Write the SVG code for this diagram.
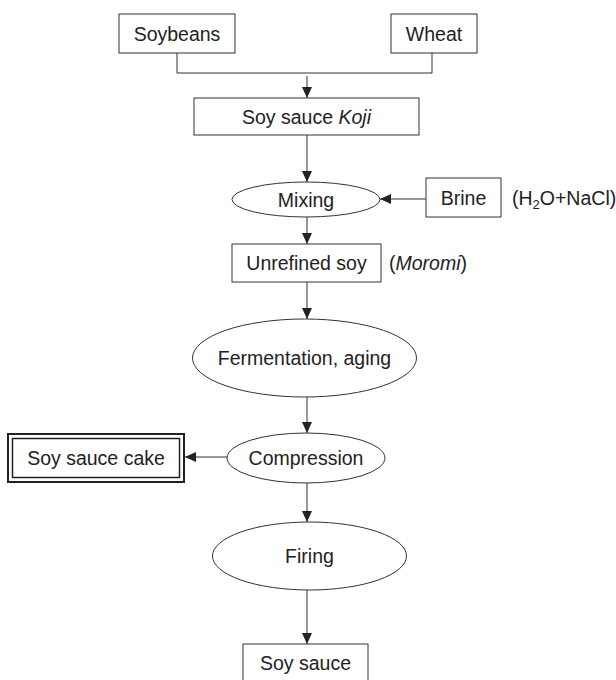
<svg xmlns="http://www.w3.org/2000/svg" width="616" height="680" viewBox="0 0 616 680">
<defs>
<marker id="ah" markerUnits="userSpaceOnUse" markerWidth="11" markerHeight="10" refX="11" refY="5" orient="auto">
<path d="M0,0 L11,5 L0,10 z" fill="#222"/>
</marker>
<style>
.box{fill:#fff;stroke:#333;stroke-width:1}
.t{font-family:"Liberation Sans",Arial,sans-serif;font-size:19.5px;fill:#222;text-anchor:middle}
.ts{font-family:"Liberation Sans",Arial,sans-serif;font-size:19.5px;fill:#222}
.c{fill:none;stroke:#333;stroke-width:1}
.a{fill:none;stroke:#333;stroke-width:1;marker-end:url(#ah)}
</style>
</defs>
<rect width="616" height="680" fill="#fff"/>
<g id="connectors">
<polyline class="c" points="177,53 177,73 432,73 432,53"/>
<line class="a" x1="307" y1="76" x2="307" y2="98"/>
<line class="a" x1="307" y1="135" x2="307" y2="182"/>
<line class="a" x1="426" y1="199" x2="380" y2="199"/>
<line class="a" x1="307" y1="217" x2="307" y2="244"/>
<line class="a" x1="307" y1="282" x2="307" y2="319"/>
<line class="a" x1="307" y1="397" x2="307" y2="433"/>
<line class="a" x1="227" y1="457" x2="185" y2="457"/>
<line class="a" x1="307" y1="483" x2="307" y2="522"/>
<line class="a" x1="307" y1="590" x2="307" y2="644"/>
</g>
<g id="soybeans"><rect class="box" x="119" y="14" width="116" height="39"/><text class="t" x="177" y="40.5">Soybeans</text></g>
<g id="wheat"><rect class="box" x="391" y="14" width="86" height="39"/><text class="t" x="434" y="40.5">Wheat</text></g>
<g id="koji"><rect class="box" x="194" y="98" width="225" height="37"/><text class="t" x="306.5" y="123.5">Soy sauce <tspan font-style="italic">Koji</tspan></text></g>
<g id="mixing"><ellipse class="box" cx="306" cy="199.5" rx="74" ry="17.5"/><text class="t" x="306" y="206.5">Mixing</text></g>
<g id="brine"><rect class="box" x="426" y="178" width="75" height="39"/><text class="t" x="463.5" y="204.5">Brine</text><text class="ts" x="512" y="204.5">(H<tspan font-size="13" dy="4">2</tspan><tspan dy="-4">O+NaCl)</tspan></text></g>
<g id="unrefined"><rect class="box" x="232" y="244" width="149" height="38"/><text class="t" x="306.5" y="270">Unrefined soy</text><text class="ts" x="389" y="270">(<tspan font-style="italic">Moromi</tspan>)</text></g>
<g id="fermentation"><ellipse class="box" cx="304.5" cy="358" rx="112" ry="39"/><text class="t" x="304.5" y="365">Fermentation, aging</text></g>
<g id="compression"><ellipse class="box" cx="306" cy="458" rx="79" ry="25"/><text class="t" x="306" y="465">Compression</text></g>
<g id="cake"><rect fill="#fff" stroke="#222" stroke-width="2" x="8" y="434" width="176" height="48"/><rect fill="none" stroke="#222" stroke-width="1.5" x="12.5" y="438.5" width="167" height="39"/><text class="t" x="96" y="465">Soy sauce cake</text></g>
<g id="firing"><ellipse class="box" cx="309.5" cy="556" rx="97" ry="34"/><text class="t" x="309.5" y="563">Firing</text></g>
<g id="soysauce"><rect class="box" x="243" y="644" width="125" height="50"/><text class="t" x="305.5" y="669.5">Soy sauce</text></g>
</svg>
